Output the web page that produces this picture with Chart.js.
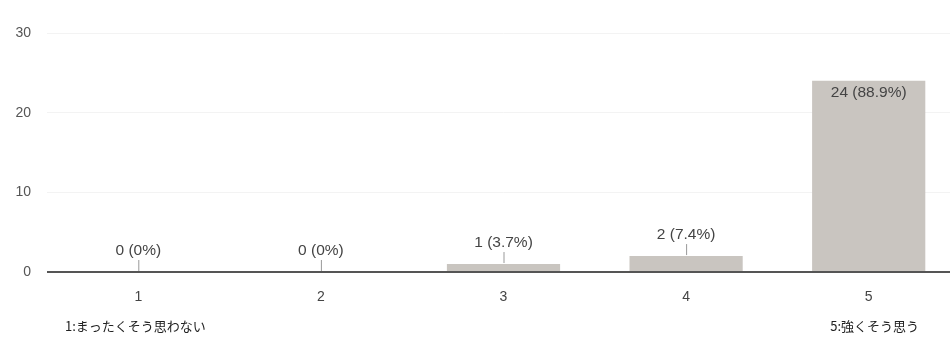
<!DOCTYPE html>
<html>
<head>
<meta charset="utf-8">
<script src="https://cdn.jsdelivr.net/npm/chart.js@4/dist/chart.umd.min.js"></script>
<style>
  html, body { margin: 0; padding: 0; background: #fff; overflow: hidden; }
  #wrap { width: 960px; height: 338px; }
</style>
</head>
<body>
<div id="wrap"><canvas id="c" width="960" height="338"></canvas></div>
<script>
// Responses per rating (1 = not at all, 5 = strongly agree)
const categories = ['1', '2', '3', '4', '5'];
const counts = [0, 0, 1, 2, 24];
const yTicks = [0, 10, 20, 30];
const scaleLabels = ['1:まったくそう思わない', '5:強くそう思う'];

const total = counts.reduce((a, b) => a + b, 0);
function pctText(n) {
  const p = Math.round(n / total * 1000) / 10;
  return n + ' (' + (p === 0 ? '0' : p.toFixed(1)) + '%)';
}

const FONT = '"Liberation Sans", Arial, sans-serif';

const valueLabels = {
  id: 'valueLabels',
  afterDatasetsDraw(chart) {
    const ctx = chart.ctx;
    const meta = chart.getDatasetMeta(0);
    const yScale = chart.scales.y;
    ctx.save();
    ctx.font = '15.5px ' + FONT;
    ctx.textAlign = 'center';
    ctx.textBaseline = 'middle';
    meta.data.forEach((bar, i) => {
      const v = counts[i];
      const text = pctText(v);
      const top = yScale.getPixelForValue(v);
      const base = yScale.getPixelForValue(0);
      if (base - top > 40) {
        ctx.fillStyle = '#444';
        ctx.fillText(text, bar.x, top + 12);
      } else {
        ctx.strokeStyle = '#999';
        ctx.lineWidth = 1;
        ctx.beginPath();
        ctx.moveTo(bar.x + 0.5, top - 1);
        ctx.lineTo(bar.x + 0.5, top - 12);
        ctx.stroke();
        ctx.fillStyle = '#444';
        ctx.fillText(text, bar.x, top - 21);
      }
    });
    ctx.restore();
  },
  afterDraw(chart) {
    const ctx = chart.ctx;
    ctx.save();
    ctx.font = '13px "Noto Sans CJK JP", sans-serif';
    ctx.fillStyle = '#222';
    ctx.textBaseline = 'middle';
    ctx.textAlign = 'left';
    ctx.fillText(scaleLabels[0], 65, 326);
    ctx.textAlign = 'right';
    ctx.fillText(scaleLabels[1], 919, 326);
    ctx.restore();
  }
};

new Chart(document.getElementById('c'), {
  type: 'bar',
  data: {
    labels: categories,
    datasets: [{
      data: counts,
      backgroundColor: '#c9c5c0',
      borderWidth: 0,
      categoryPercentage: 1,
      barPercentage: 0.62
    }]
  },
  options: {
    responsive: false,
    animation: false,
    layout: { padding: { top: 33, bottom: 10, left: 0, right: 0 } },
    plugins: { legend: { display: false }, tooltip: { enabled: false } },
    scales: {
      x: {
        grid: { display: false, drawTicks: false },
        border: { display: false },
        ticks: { padding: 17, color: '#444', font: { size: 14, family: FONT } },
        afterFit(scale) { scale.height = 56; }
      },
      y: {
        min: 0,
        max: 30,
        afterBuildTicks(scale) { scale.ticks = yTicks.map(v => ({ value: v })); },
        grid: {
          drawTicks: false,
          color: ctx => ctx.tick && ctx.tick.value === 0 ? '#555' : '#f3f3f3',
          lineWidth: ctx => ctx.tick && ctx.tick.value === 0 ? 2 : 1
        },
        border: { display: false },
        ticks: { padding: 16, color: '#555', font: { size: 14, family: FONT } },
        afterFit(scale) { scale.width = 47; }
      }
    }
  },
  plugins: [valueLabels]
});
</script>
</body>
</html>
